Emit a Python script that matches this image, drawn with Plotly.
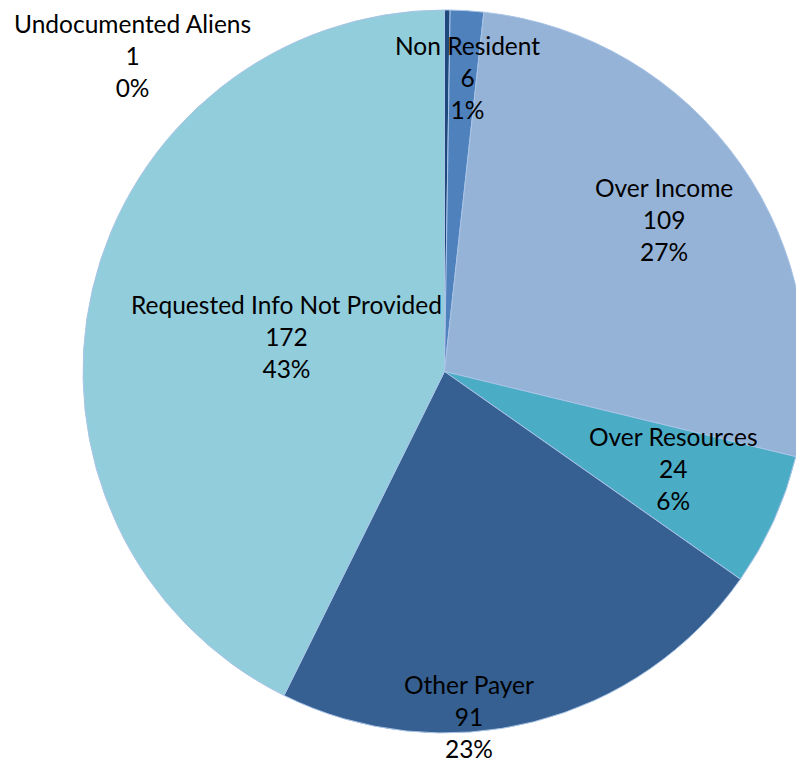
import plotly.graph_objects as go

labels = ["Undocumented Aliens", "Non Resident", "Over Income", "Over Resources",
          "Other Payer", "Requested Info Not Provided"]
values = [1, 6, 109, 24, 91, 172]
colors = ["#1F497D", "#4F81BD", "#95B3D7", "#4BACC6", "#366092", "#92CDDC"]

# label block centres on screen (pixels from top-left), Excel-like placement
label_px = [(132, 55), (467, 77), (664, 220), (673, 468), (469, 716), (286, 336)]

W, H = 804, 761
OFF = 8  # page body margin offsets the figure on screen
total = sum(values)

# pie circle on screen: left 83, right 806, top 10, bottom 733
pie_left, pie_right, pie_top, pie_bottom = 83 - OFF, 806 - OFF, 10 - OFF, 733 - OFF

fig = go.Figure(go.Pie(
    labels=labels,
    values=values,
    sort=False,
    direction="clockwise",
    rotation=0,
    marker=dict(colors=colors, line=dict(color="#A9C4E6", width=1)),
    textinfo="none",
    domain=dict(x=[pie_left / W, pie_right / W],
                y=[1 - pie_bottom / H, 1 - pie_top / H]),
    hoverinfo="label+value+percent",
    showlegend=False,
))

for lab, val, (px, py) in zip(labels, values, label_px):
    pct = round(val / total * 100)
    fig.add_annotation(
        x=(px - OFF) / W, y=1 - (py - OFF) / H, xref="paper", yref="paper",
        xanchor="center", yanchor="middle",
        text=f"{lab}<br>{val}<br>{pct}%",
        showarrow=False,
        font=dict(family="Lato", size=24.5, color="black"),
        align="center",
    )

fig.update_layout(
    width=W, height=H,
    margin=dict(l=0, r=0, t=0, b=0),
    paper_bgcolor="white",
    plot_bgcolor="white",
)

fig.write_html("out.html")
